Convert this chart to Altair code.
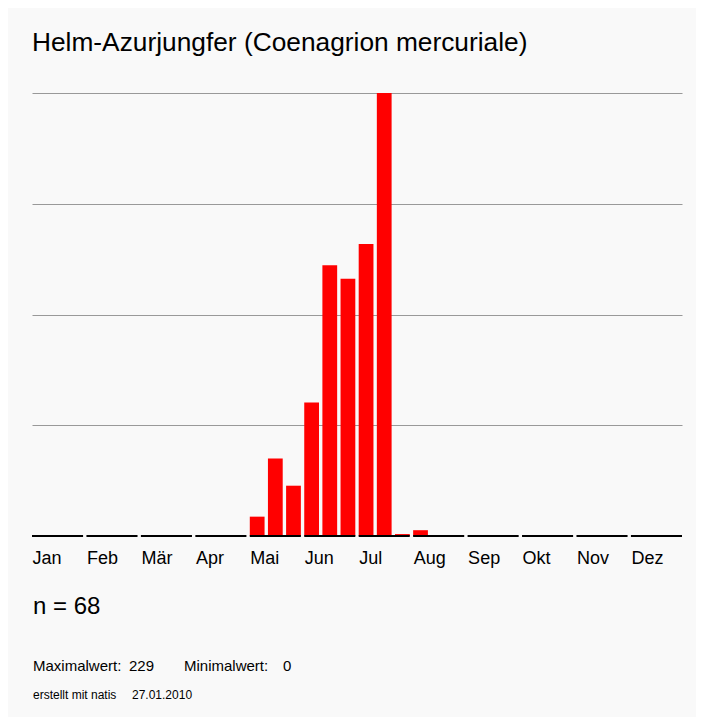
import altair as alt
import pandas as pd

# ---- data ----
months = ["Jan", "Feb", "Mär", "Apr", "Mai", "Jun", "Jul", "Aug", "Sep", "Okt", "Nov", "Dez"]
decade_values = [
    0, 0, 0,      # Jan
    0, 0, 0,      # Feb
    0, 0, 0,      # Mär
    0, 0, 0,      # Apr
    10, 40, 26,   # Mai
    69, 140, 133, # Jun
    151, 229, 1,  # Jul
    3, 0, 0,      # Aug
    0, 0, 0,      # Sep
    0, 0, 0,      # Okt
    0, 0, 0,      # Nov
    0, 0, 0,      # Dez
]
title_text = "Helm-Azurjungfer (Coenagrion mercuriale)"
n_obs = 68
max_value = 229
min_value = 0
created_text = "erstellt mit natis"
created_date = "27.01.2010"

grid_values = [max_value * k / 4 for k in (1, 2, 3, 4)]

bar_df = pd.DataFrame({
    "slot": list(range(len(decade_values))),
    "month": [months[i // 3] for i in range(len(decade_values))],
    "value": decade_values,
})
month_df = pd.DataFrame({"month": months})

FONT = "Liberation Sans"
W, H = 650, 443

bars = alt.Chart(bar_df).mark_bar(color="#ff0000").encode(
    x=alt.X("slot:O", scale=alt.Scale(paddingInner=0.186, paddingOuter=0), axis=None),
    y=alt.Y(
        "value:Q",
        scale=alt.Scale(domain=[0, max_value], nice=False, zero=True),
        axis=alt.Axis(values=grid_values, grid=True, gridColor="#999999", gridWidth=1,
                      domain=False, ticks=False, labels=False, title=None),
    ),
)

segments = alt.Chart(month_df).mark_bar(color="black").encode(
    x=alt.X(
        "month:N", sort=months,
        scale=alt.Scale(paddingInner=0.062, paddingOuter=0),
        axis=alt.Axis(title=None, domain=False, ticks=False, tickSize=0, grid=False,
                      labelAngle=0, labelAlign="left", labelBaseline="alphabetic",
                      labelPadding=27, labelFontSize=18, labelFont=FONT,
                      labelColor="black", labelOffset=-25, labelOverlap=False),
    ),
    y=alt.value(H - 1),
    y2=alt.value(H + 1),
)


def label(text, x, y, size):
    return alt.Chart(pd.DataFrame({"t": [text]})).mark_text(
        align="left", baseline="alphabetic", font=FONT, fontSize=size, color="black"
    ).encode(x=alt.value(x), y=alt.value(y), text="t:N")


texts = [
    label(title_text, 0, -42, 26.3),
    label(f"n = {n_obs}", 1, 521, 24),
    label("Maximalwert:", 1, 578, 15),
    label(str(max_value), 97, 578, 15),
    label("Minimalwert:", 152, 578, 15),
    label(str(min_value), 251, 578, 15),
    label(created_text, 1, 606, 12),
    label(created_date, 100, 606, 12),
]

chart = alt.layer(bars, segments, *texts).resolve_scale(x="independent").properties(
    width=W, height=H,
    autosize=alt.AutoSizeParams(type="none"),
    padding={"left": 24, "top": 85, "right": 14, "bottom": 181},
    background="#f9f9f9",
).configure_view(stroke=None)

chart.save("out.html", embed_options={"renderer": "svg", "actions": False})
